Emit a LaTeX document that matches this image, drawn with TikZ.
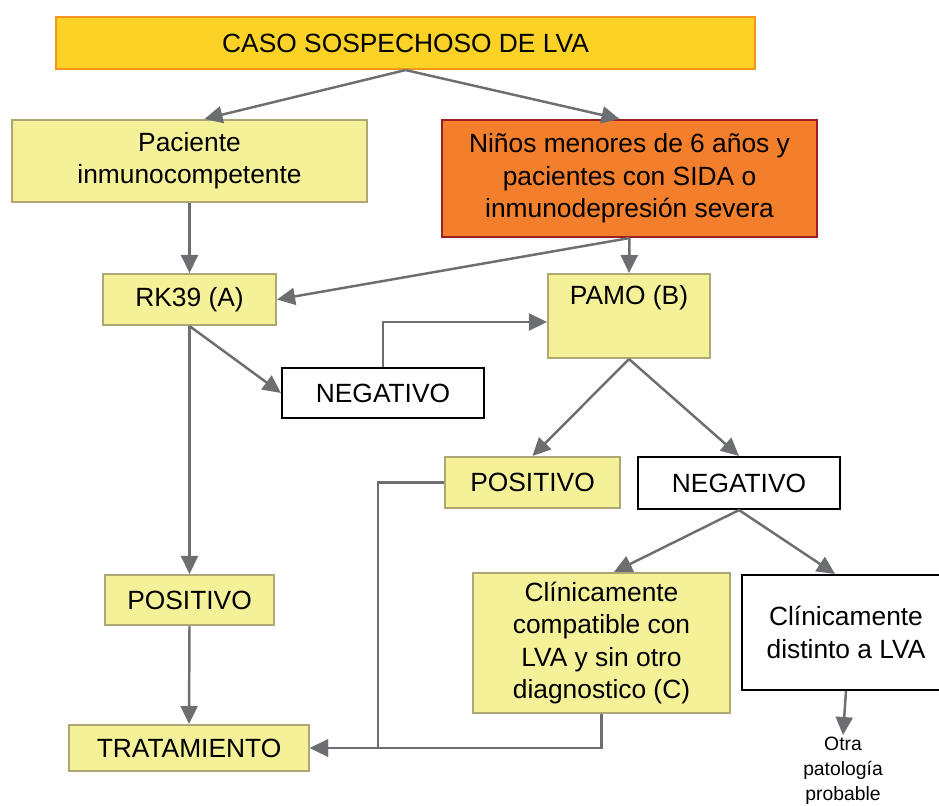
\documentclass[tikz,border=0pt]{standalone}
\usepackage{fontspec}
\setmainfont{Liberation Sans}
\usetikzlibrary{arrows.meta}
\definecolor{amarillo}{HTML}{FDD226}
\definecolor{naranjaborde}{HTML}{F7941D}
\definecolor{crema}{HTML}{F5F199}
\definecolor{cremaborde}{HTML}{ADA776}
\definecolor{naranja}{HTML}{F37F2C}
\definecolor{rojoborde}{HTML}{9E1F23}
\definecolor{flecha}{HTML}{6D6E71}
\begin{document}
\begin{tikzpicture}
    [x=0.02cm,y=-0.02cm,
    caja/.style = {draw=cremaborde, fill=crema, line width=1.2pt,
                  align=center, inner sep=2pt,
                  font=\fontsize{15}{18.4}\selectfont},
    blanca/.style = {caja, draw=black, fill=white},
    arr/.style = {draw=flecha, line width=1.4pt,
                 -{Triangle[length=0.36cm,width=0.34cm]}}]
    \useasboundingbox (0,0) rectangle (939,805);
    \clip (0,0) rectangle (939,805);
    % Caso inicial
    \node[caja,draw=naranjaborde,fill=amarillo,minimum width=13.98cm,minimum height=1.04cm] (caso) at (405.5,43) {CASO SOSPECHOSO DE LVA};
    % Ramas
    \node[caja,minimum width=7.1cm,minimum height=1.64cm] (paciente) at (189.5,161) {Paciente\\inmunocompetente};
    \node[caja,draw=rojoborde,fill=naranja,minimum width=7.5cm,minimum height=2.34cm] (ninos) at (629.5,178.5) {Niños menores de 6 años y\\pacientes con SIDA o\\inmunodepresión severa};
    % Pruebas
    \node[caja,minimum width=3.46cm,minimum height=1.02cm] (rk) at (189.5,299.5) {RK39 (A)};
    \node[caja,minimum width=3.24cm,minimum height=1.68cm] (pamo) at (629,316) {};
    \node[font=\fontsize{15}{18.4}\selectfont] (pamotxt) at (629,298) {PAMO (B)};
    % Resultados
    \node[blanca,minimum width=4.04cm,minimum height=1cm] (neg1) at (383,393) {NEGATIVO};
    \node[caja,minimum width=3.5cm,minimum height=1.02cm] (pos2) at (532.5,482.5) {POSITIVO};
    \node[blanca,minimum width=4.04cm,minimum height=1.04cm] (neg2) at (739,483) {NEGATIVO};
    \node[caja,minimum width=3.38cm,minimum height=1cm] (pos1) at (189.5,600) {POSITIVO};
    \node[caja,minimum width=4.8cm,minimum height=0.92cm] (trat) at (189,748) {TRATAMIENTO};
    \node[caja,minimum width=5.14cm,minimum height=2.8cm] (clin1) at (601.5,643) {Clínicamente\\compatible con\\LVA y sin otro\\diagnostico (C)};
    \node[blanca,minimum width=4.16cm,minimum height=2.3cm] (clin2) at (846,632.5) {Clínicamente\\distinto a LVA};
    \node[align=center,anchor=north,inner sep=1pt,font=\fontsize{11}{14.2}\selectfont] (otra) at (843,735) {Otra\\patología\\probable};
    \coordinate (union) at (378,0);
    % Flechas
    \draw[arr] (caso.south) -- ([xshift=0.3cm]paciente.north);
    \draw[arr] (caso.south) -- ([xshift=-0.2cm]ninos.north);
    \draw[arr] (paciente.south) -- (rk.north);
    \draw[arr] (ninos.south) -- (rk.east);
    \draw[arr] (ninos.south) -- (pamo.north);
    \draw[arr] (rk.south) -- (neg1.west);
    \draw[arr] (rk.south) -- (pos1.north);
    \draw[arr] (neg1.north) |- ([yshift=-0.12cm]pamo.west);
    \draw[arr] (pamo.south) -- (pos2.north);
    \draw[arr] (pamo.south) -- (neg2.north);
    \draw[arr] (pos2.west) -| (union |- trat.east) -- (trat.east);
    \draw[arr] (clin1.south) |- (trat.east);
    \draw[arr] (neg2.south) -- ([xshift=0.25cm]clin1.north);
    \draw[arr] (neg2.south) -- ([xshift=-0.22cm]clin2.north);
    \draw[arr] (clin2.south) -- (otra.north);
    \draw[arr] (pos1.south) -- (trat.north);
\end{tikzpicture}
\end{document}
